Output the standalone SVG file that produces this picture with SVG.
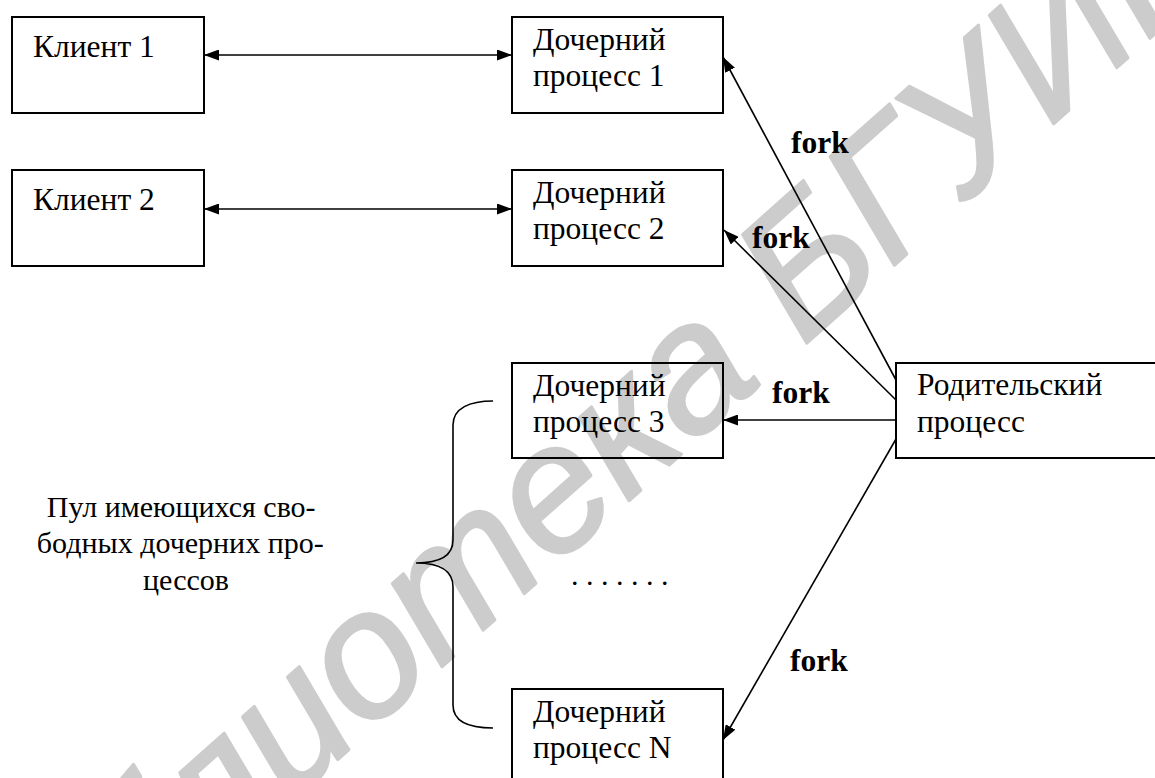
<svg xmlns="http://www.w3.org/2000/svg" width="1155" height="778" viewBox="0 0 1155 778">
  <style>
    .box { fill: none; stroke: #000; stroke-width: 2; }
    .lbl { font-family: "Liberation Serif", "Times New Roman", serif; font-size: 31.5px; fill: #000; }
    .pool { font-family: "Liberation Serif", "Times New Roman", serif; font-size: 30px; fill: #000; }
    .fork { font-family: "Liberation Serif", "Times New Roman", serif; font-size: 31.5px; font-weight: bold; fill: #000; }
    .wire { stroke: #000; stroke-width: 1.6; fill: none; }
    .wm { font-family: "Liberation Sans", Arial, sans-serif; font-style: italic; font-size: 180px; fill: #cccccc; stroke: #cccccc; stroke-width: 3; stroke-linejoin: round; }
  </style>
  <defs>
    <marker id="tip" viewBox="0 0 15 11" refX="15" refY="5.5" markerWidth="15" markerHeight="11" markerUnits="userSpaceOnUse" orient="auto-start-reverse">
      <path d="M0,0 L15,5.5 L0,11 Z" fill="#000"/>
    </marker>
  </defs>

  <rect width="1155" height="778" fill="#fff"/>

  <!-- library watermark, behind the drawing -->
  <text class="wm" transform="translate(-21,1078) rotate(-41.6)">Библиотека БГУИР</text>

  <g id="client1">
    <rect class="box" x="12" y="17" width="192" height="96"/>
    <text class="lbl" x="33" y="57">Клиент 1</text>
  </g>
  <g id="client2">
    <rect class="box" x="12" y="170" width="192" height="96"/>
    <text class="lbl" x="33" y="210">Клиент 2</text>
  </g>

  <g id="child1">
    <rect class="box" x="512" y="17" width="211" height="96"/>
    <text class="lbl" x="533" y="50">Дочерний</text>
    <text class="lbl" x="533" y="86">процесс 1</text>
  </g>
  <g id="child2">
    <rect class="box" x="512" y="170" width="211" height="96"/>
    <text class="lbl" x="533" y="203">Дочерний</text>
    <text class="lbl" x="533" y="239">процесс 2</text>
  </g>
  <g id="child3">
    <rect class="box" x="512" y="363" width="211" height="95"/>
    <text class="lbl" x="533" y="396">Дочерний</text>
    <text class="lbl" x="533" y="432">процесс 3</text>
  </g>
  <g id="childN">
    <rect class="box" x="512" y="689" width="211" height="96"/>
    <text class="lbl" x="533" y="722">Дочерний</text>
    <text class="lbl" x="533" y="758">процесс N</text>
  </g>

  <g id="parent">
    <rect class="box" x="896" y="363" width="270" height="95"/>
    <text class="lbl" x="917" y="395">Родительский</text>
    <text class="lbl" x="917" y="432">процесс</text>
  </g>

  <g id="pool">
    <path class="wire" d="M493,401 C470,401 453,408 453,425 L453,540 C453,556 440,563 416,563 C440,563 453,570 453,587 L453,705 C453,722 470,728 493,728"/>
    <text class="pool" text-anchor="middle">
      <tspan x="185" y="517">Пул имеющихся сво-</tspan>
      <tspan x="184" y="553">бодных дочерних про-</tspan>
      <tspan x="186" y="590">цессов</tspan>
    </text>
  </g>

  <g id="ellipsis">
    <text class="pool" x="571" y="585">. . . . . . .</text>
  </g>

  <g id="connectors">
    <line class="wire" x1="204" y1="55" x2="512" y2="55" marker-start="url(#tip)" marker-end="url(#tip)"/>
    <line class="wire" x1="204" y1="209" x2="512" y2="209" marker-start="url(#tip)" marker-end="url(#tip)"/>
    <line class="wire" x1="896" y1="380" x2="723" y2="57" marker-end="url(#tip)"/>
    <line class="wire" x1="896" y1="400" x2="724" y2="230" marker-end="url(#tip)"/>
    <line class="wire" x1="896" y1="420" x2="723" y2="420" marker-end="url(#tip)"/>
    <line class="wire" x1="896" y1="439" x2="723" y2="740" marker-end="url(#tip)"/>
    <text class="fork" x="791" y="153">fork</text>
    <text class="fork" x="752" y="248">fork</text>
    <text class="fork" x="772" y="403">fork</text>
    <text class="fork" x="790" y="671">fork</text>
  </g>
</svg>
